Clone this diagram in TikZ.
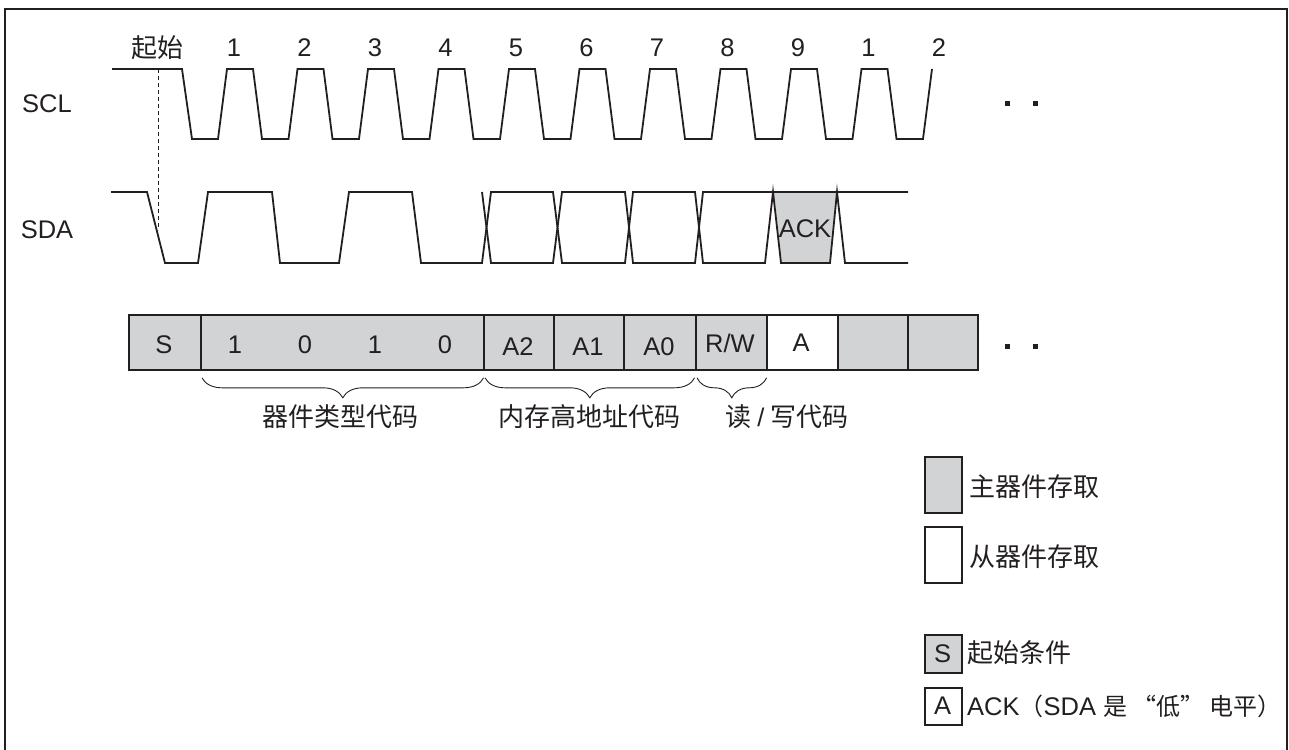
\documentclass[tikz,border=0pt]{standalone}
\usepackage{fontspec}
\setmainfont{Liberation Sans}
\newfontfamily\cjk{Noto Sans CJK SC}
\usetikzlibrary{decorations.pathreplacing}
\definecolor{cellgray}{HTML}{D1D3D4}
\definecolor{ink}{HTML}{231F20}
\newcommand\zhtxt[1]{{\cjk\fontsize{26}{30}\selectfont #1}}
\newcommand\zhsm[1]{{\cjk\fontsize{24}{28}\selectfont #1}}
\begin{document}
\begin{tikzpicture}[x=1pt,y=-1pt,
  every node/.style={font=\fontsize{25.5}{30}\selectfont, inner sep=0pt, text=ink},
  wave/.style={draw=ink, line width=1.8pt, line join=miter},
  cell/.style={draw=ink, line width=1.6pt, fill=cellgray, minimum height=55pt, anchor=west},
  acell/.style={cell, fill=white},
  legbox/.style={draw=ink, line width=1.6pt, anchor=north west},
  brc/.style={draw=ink, line width=0.9pt, decorate, decoration={brace, mirror, amplitude=20pt}},
  dotsq/.style={fill=ink, minimum size=5pt},
  lbl/.style={anchor=center}]
\useasboundingbox (0,0) rectangle (1289,749);
\clip (0,0) rectangle (1289,749);
\draw[line width=2.5pt, ink] (5,9) rectangle (1287,780);

% signal labels
\node[lbl] (scl) at (47,104) {SCL};
\node[lbl] (sda) at (47,230) {SDA};

% clock labels
\node[lbl] (start) at (157,48) {\zhtxt{起始}};
\foreach \t [count=\k from 0] in {1,2,3,4,5,6,7,8,9,1,2}
  \node[lbl] (clk\k) at ({234+70.5*\k},48) {\t};

% SCL waveform
\draw[wave] (112,69) -- (182,69) -- (192,139)
  foreach \k in {0,...,9} { -- ({218+70.5*\k},139) -- ({227+70.5*\k},69) -- ({253+70.5*\k},69) -- ({262+70.5*\k},139) }
  -- (923,139) -- (932,69);

% start marker
\coordinate (dtop) at (158,69);
\coordinate (dbot) at (158,230);
\draw[ink, line width=0.9pt, dash pattern=on 4pt off 3pt] (dtop) -- (dbot);

% SDA waveform
\fill[cellgray] (773,192) -- (837,192) -- (830,263) -- (781,263) -- cycle;
\draw[wave] (111,192) -- (147,192) -- (165,263) -- (198,263) -- (208,192) -- (272,192) -- (280,263)
  -- (339,263) -- (349,192) -- (412,192) -- (421,263) -- (482,263) -- (491,192) -- (553,192)
  -- (562,263) -- (625,263) -- (633,192) -- (695,192) -- (703,263) -- (765,263) -- (773,192)
  -- (781,263) -- (830,263) -- (837,192) -- (845,263) -- (908,263);
\draw[wave] (482,192) -- (491,263) -- (553,263) -- (562,192) -- (625,192) -- (633,263) -- (695,263)
  -- (703,192) -- (908,192);
\node[lbl] (ack) at (805,229) {ACK};

% dots
\node[dotsq] (d1) at (1007,104) {};
\node[dotsq] (d2) at (1035,104) {};
\node[dotsq] (d3) at (1007,346) {};
\node[dotsq] (d4) at (1035,346) {};

% frame cells
\node[cell, minimum width=72pt] (cS) at (128,342.5) {};
\node (tS) at (164,345) {S};
\node[cell, minimum width=283pt] (cB) at (200,342.5) {};
\node (b1) at (235,345) {1};
\node (b2) at (305,345) {0};
\node (b3) at (375,345) {1};
\node (b4) at (445,345) {0};
\node[cell, minimum width=70pt] (cA2) at (483,342.5) {};
\node (tA2) at (518,347) {A2};
\node[cell, minimum width=70pt] (cA1) at (553,342.5) {};
\node (tA1) at (588,347) {A1};
\node[cell, minimum width=72pt] (cA0) at (623,342.5) {};
\node (tA0) at (659,347) {A0};
\node[cell, minimum width=71pt] (cRW) at (695,342.5) {};
\node (tRW) at (730,343) {R/W};
\node[cell, minimum width=70pt] (cE1) at (837,342.5) {};
\node[cell, minimum width=70pt] (cE2) at (907,342.5) {};
\node[acell, minimum width=71pt] (cA) at (766,342.5) {};
\node (tA) at (801,343) {A};

% braces
\draw[brc] ([xshift=2pt,yshift=-7pt]cB.south west) -- ([xshift=-1pt,yshift=-7pt]cB.south east);
\draw[brc] ([xshift=2pt,yshift=-7pt]cA2.south west) -- ([xshift=-2pt,yshift=-7pt]cA0.south east);
\draw[brc] ([xshift=2pt,yshift=-7pt]cRW.south west) -- ([xshift=-1pt,yshift=-7pt]cRW.south east);
\node (g1) at (340,417) {\zhtxt{器件类型代码}};
\node (g2) at (589,417) {\zhtxt{内存高地址代码}};
\node (g3) at (787,417) {\zhtxt{读 {\fontspec{Liberation Sans}\fontsize{25.5}{30}\selectfont /} 写代码}};

% legend
\node[legbox, fill=cellgray, minimum width=37pt, minimum height=56pt] (lg1) at (924,456) {};
\node[anchor=west] (lt1) at (969,487) {\zhtxt{主器件存取}};
\node[legbox, fill=white, minimum width=37pt, minimum height=56pt] (lg2) at (924,526) {};
\node[anchor=west] (lt2) at (969,557) {\zhtxt{从器件存取}};
\node[legbox, fill=cellgray, minimum width=37pt, minimum height=38pt] (lg3) at (924,634) {};
\node (lg3t) at (942.5,654) {S};
\node[anchor=west] (lt3) at (967,653) {\zhtxt{起始条件}};
\node[legbox, fill=white, minimum width=37pt, minimum height=37pt] (lg4) at (924,687) {};
\node (lg4t) at (942.5,706) {A};
\node[anchor=west] (lt4) at (967,706) {ACK\zhsm{（}SDA \zhsm{是 “低” 电平）}};
\end{tikzpicture}
\end{document}
